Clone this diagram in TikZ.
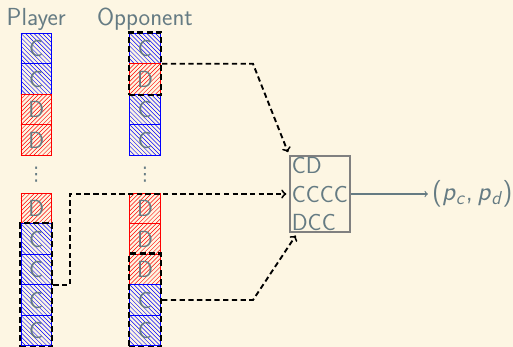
\documentclass[tikz,border=0pt]{standalone}
\usepackage{fontspec}
\usepackage{tikz}
\usetikzlibrary{fit,calc}
\newfontfamily\dotsfont{DejaVu Sans}
\definecolor{bgsol}{HTML}{FDF6E3}
\definecolor{fgsol}{HTML}{657B83}

\begin{document}
\begin{tikzpicture}[x=0.8cm, y=0.8cm,
        font=\sffamily\fontsize{17.4}{21}\selectfont, text=fgsol,
        cell/.style={minimum size=0.8cm, inner sep=0pt, line width=0.6pt, cell#1},
        cellC/.style={draw=blue, path picture={
            \foreach \k in {-1.12,-0.98,...,1.12}
                \draw[blue, line width=0.35pt] ([shift={(\k-0.5,0.5)}]path picture bounding box.center) -- ++(1,-1);}},
        cellD/.style={draw=red, path picture={
            \foreach \k in {-1.12,-0.98,...,1.12}
                \draw[red, line width=0.35pt] ([shift={(\k-0.5,-0.5)}]path picture bounding box.center) -- ++(1,1);}},
        title/.style={anchor=base, font=\sffamily\fontsize{18.4}{22}\selectfont},
        vdots/.style={inner sep=0pt, font=\dotsfont\fontsize{14}{14}\selectfont},
        ctxbox/.style={draw=black, line width=1.6pt, dash pattern=on 4.5pt off 2.5pt, inner sep=0.3pt},
        feed/.style={draw=black, line width=1.4pt, dash pattern=on 4pt off 2.5pt, ->, shorten >=2pt}
    ]
            \fill[bgsol] (0,0) rectangle (16.82,11.377);
            \useasboundingbox (0,0) rectangle (16.82,11.377);
            % column titles
            \node[title] (ttlP) at (1.187,10.557) {Player};
            \node[title] (ttlO) at (4.754,10.557) {Opponent};
            % first moves
            \foreach \l [count=\i] in {C,C,D,D}
                \node[cell=\l] (pt\i) at (1.187,10.785-\i) {\l};
            \foreach \l [count=\i] in {C,D,C,C}
                \node[cell=\l] (ot\i) at (4.754,10.785-\i) {\l};
            \node[vdots] (dP) at (1.187,5.639) {⋮};
            \node[vdots] (dO) at (4.754,5.639) {⋮};
            % last moves
            \foreach \l [count=\i] in {D,C,C,C,C}
                \node[cell=\l] (pb\i) at (1.187,5.539-\i) {\l};
            \foreach \l [count=\i] in {D,D,D,C,C}
                \node[cell=\l] (ob\i) at (4.754,5.539-\i) {\l};
            % contexts
            \node[ctxbox, fit=(ot1)(ot2)] (ctxO)  {};
            \node[ctxbox, fit=(pb2)(pb5)] (ctxP)  {};
            \node[ctxbox, fit=(ob3)(ob5)] (ctxOb) {};
            \node[draw=gray, line width=1.4pt, align=left, inner xsep=1.5pt, inner ysep=1.5pt, anchor=west]
                (hist) at (9.475,5.016) {CD\\CCCC\\DCC};
            \node[anchor=west, inner sep=3pt, font=\sffamily\fontsize{20}{24}\selectfont] (res) at (14.03,5.016)
                {(\textit{p}\textsubscript{\textit{c}},\,\textit{p}\textsubscript{\textit{d}})};
            \draw[feed] (ctxO.east) -- (ctxO.east -| 8.295,0) -- (hist.north west);
            \draw[feed] (ctxP.east) -- ++(0.55,0) |- (hist.west);
            \draw[feed] (ctxOb.east) -- (ctxOb.east -| 8.295,0) -- (hist.240);
            \draw[->, fgsol, thick] (hist.east) -- (hist.east -| res.west);
\end{tikzpicture}
\end{document}
